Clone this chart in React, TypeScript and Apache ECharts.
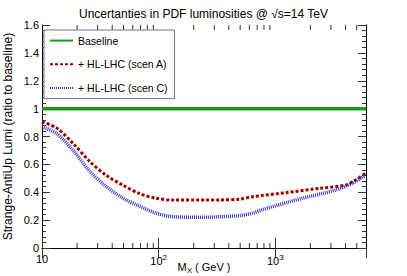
import React, { useEffect, useRef } from "react";
import * as echarts from "echarts";

const massA = [10, 13.4, 18.5, 25.7, 35.7, 49.5, 68.8, 95, 132, 257, 333, 492, 640, 1230, 2380, 4020, 4900, 5900];
const scenA = [0.905, 0.86, 0.75, 0.62, 0.52, 0.45, 0.39, 0.357, 0.344, 0.344, 0.345, 0.35, 0.368, 0.397, 0.428, 0.452, 0.488, 0.536];
const massC = [10, 13.4, 18.5, 25.7, 35.7, 49.5, 68.8, 95, 132, 257, 333, 492, 640, 780, 1000, 1300, 1710, 3300, 4570, 5900];
const scenC = [0.87, 0.82, 0.7, 0.55, 0.44, 0.357, 0.3, 0.25, 0.225, 0.22, 0.224, 0.232, 0.25, 0.276, 0.302, 0.33, 0.357, 0.416, 0.464, 0.52];
const massBase = [10, 6000];
const baseline = [1, 1];
const minorX = [20, 30, 40, 50, 60, 70, 80, 90, 200, 300, 400, 500, 600, 700, 800, 900, 2000, 3000, 4000, 5000];
const seriesNames = ["Baseline", "+ HL-LHC (scen A)", "+ HL-LHC (scen C)"];

const FONT = "Liberation Sans, Arial, Helvetica, sans-serif";
const X_MIN = 10;
const X_MAX = 6000;
const Y_MIN = 0;
const Y_MAX = 1.6;

function xLabel(v: number): string {
  const e = Math.round(Math.log10(v));
  if (Math.abs(Math.pow(10, e) - v) > 1e-6 * v) return "";
  if (e === 1) return "{b|10}";
  return "{b|10}{s|" + e + "}";
}

export default function App() {
  const ref = useRef<HTMLDivElement>(null);
  useEffect(() => {
    if (!ref.current) return;
    const chart = echarts.init(ref.current, null, { renderer: "svg" });
    const tickColor = "#333";
    const yCommon = {
      type: "value",
      min: Y_MIN,
      max: Y_MAX,
      interval: 0.2,
      splitLine: { show: false },
      axisLine: { show: true, lineStyle: { color: "#000", width: 1 } },
      axisTick: { show: true, inside: true, length: 8, lineStyle: { color: tickColor } },
      minorTick: { show: true, splitNumber: 5, length: 4, lineStyle: { color: tickColor } },
    };
    const xCommon = {
      type: "log",
      logBase: 10,
      min: X_MIN,
      max: X_MAX,
      splitLine: { show: false },
      axisLine: { show: true, lineStyle: { color: "#000", width: 1 } },
      axisTick: { show: true, inside: true, length: 10, lineStyle: { color: tickColor } },
    };
    chart.setOption({
      animation: false,
      textStyle: { fontFamily: FONT },
      title: {
        text: "Uncertanties in PDF luminosities @ √s=14 TeV",
        left: "center",
        top: 3,
        textStyle: { fontFamily: FONT, fontSize: 12, fontWeight: "normal", color: "#000" },
      },
      grid: { left: 42, top: 25, right: 41, bottom: 28, outerBoundsMode: "none", containLabel: false },
      legend: {
        data: seriesNames,
        orient: "vertical",
        left: 44,
        top: 30,
        itemWidth: 23,
        itemHeight: 14,
        itemGap: 12.5,
        padding: [5, 7, 5, 5],
        borderColor: "#777",
        borderWidth: 1,
        backgroundColor: "#fff",
        itemStyle: { opacity: 0 },
        textStyle: { fontFamily: FONT, fontSize: 10.5, color: "#000" },
      },
      xAxis: [
        {
          ...xCommon,
          position: "bottom",
          name: "{m|M}{sub|X}{m| ( GeV )}",
          nameLocation: "middle",
          nameGap: 12,
          nameMoveOverlap: false,
          nameTextStyle: {
            rich: {
              m: { fontFamily: FONT, fontSize: 11, color: "#000" },
              sub: { fontFamily: FONT, fontSize: 8, color: "#000", padding: [6, 0, 0, 0] },
            },
          },
          axisLabel: {
            show: true,
            margin: 5,
            showMaxLabel: false,
            formatter: (v: number) => xLabel(v),
            rich: {
              b: { fontFamily: FONT, fontSize: 11, color: "#000" },
              s: { fontFamily: FONT, fontSize: 8, color: "#000", padding: [0, 0, 7, 0] },
            },
          },
        },
        { ...xCommon, position: "top", axisLabel: { show: false } },
      ],
      yAxis: [
        {
          ...yCommon,
          position: "left",
          name: "Strange-AntiUp Lumi (ratio to baseline)",
          nameLocation: "middle",
          nameGap: 28,
          nameMoveOverlap: false,
          nameTextStyle: { fontFamily: FONT, fontSize: 12, color: "#000" },
          axisLabel: { show: true, margin: 3, fontFamily: FONT, fontSize: 11, color: "#000" },
        },
        { ...yCommon, position: "right", axisLabel: { show: false } },
      ],
      series: [
        {
          name: seriesNames[0],
          type: "line",
          xAxisIndex: 0,
          yAxisIndex: 0,
          symbol: "none",
          data: massBase.map((m, i) => [m, baseline[i]]),
          lineStyle: { color: "#1a9a1a", width: 3.5, type: "solid" },
          itemStyle: { color: "#1a9a1a" },
        },
        {
          name: seriesNames[1],
          type: "line",
          xAxisIndex: 0,
          yAxisIndex: 0,
          symbol: "none",
          smooth: 0.3,
          data: massA.map((m, i) => [m, scenA[i]]),
          lineStyle: { color: "#a00000", width: 3, type: [3, 2] },
          itemStyle: { color: "#a00000" },
        },
        {
          name: seriesNames[2],
          type: "line",
          xAxisIndex: 0,
          yAxisIndex: 0,
          symbol: "none",
          smooth: 0.3,
          data: massC.map((m, i) => [m, scenC[i]]),
          lineStyle: { color: "#3535c8", width: 3.5, type: [1, 1] },
          itemStyle: { color: "#3535c8" },
        },
        {
          name: "minorTicks",
          type: "custom",
          xAxisIndex: 0,
          yAxisIndex: 0,
          clip: false,
          silent: true,
          data: minorX.map((m) => [m, 0]),
          renderItem: (params: any, api: any) => {
            const v = api.value(0);
            const b = api.coord([v, Y_MIN]);
            const t = api.coord([v, Y_MAX]);
            const style = { stroke: tickColor, lineWidth: 1 };
            return {
              type: "group",
              children: [
                { type: "line", shape: { x1: b[0], y1: b[1], x2: b[0], y2: b[1] - 5 }, style },
                { type: "line", shape: { x1: t[0], y1: t[1], x2: t[0], y2: t[1] + 5 }, style },
              ],
            };
          },
        },
      ],
    });
    return () => chart.dispose();
  }, []);
  return (
    <div
      ref={ref}
      style={{ position: "absolute", left: 0, top: 0, width: 407, height: 276, background: "#fff" }}
    />
  );
}
